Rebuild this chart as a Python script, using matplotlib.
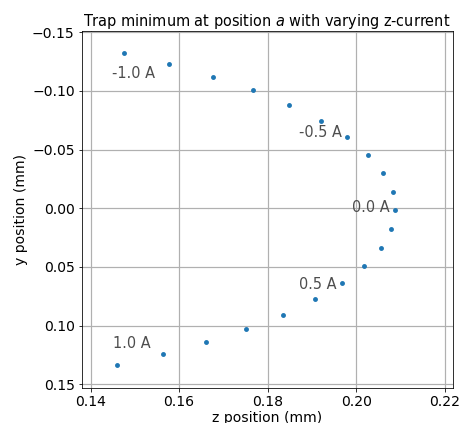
import numpy as np
import matplotlib
matplotlib.use("Agg")
import matplotlib.pyplot as plt

# trap minimum positions (mm) for z-current from -1.0 A to 1.0 A
currents = np.round(np.arange(-1.0, 1.01, 0.1), 1)
z_pos = [0.1475, 0.1578, 0.1676, 0.1767, 0.1849, 0.1920, 0.1980, 0.2027,
         0.2061, 0.2082, 0.2087, 0.2078, 0.2055, 0.2018, 0.1969, 0.1907,
         0.1834, 0.1751, 0.1661, 0.1563, 0.1460]
y_pos = [-0.1321, -0.1228, -0.1122, -0.1009, -0.0881, -0.0744, -0.0604, -0.0453,
         -0.0297, -0.0141, 0.0019, 0.0179, 0.0336, 0.0489, 0.0637, 0.0776,
         0.0910, 0.1032, 0.1142, 0.1242, 0.1333]

# annotation labels and where they sit
label_text = ["-1.0 A", "-0.5 A", "0.0 A", "0.5 A", "1.0 A"]
label_z = [0.1497, 0.1920, 0.2033, 0.1913, 0.1493]
label_y = [-0.1147, -0.0646, -0.0009, 0.0654, 0.1154]


def main():
    dpi = 72
    fig = plt.figure(figsize=(466 / dpi, 423 / dpi), dpi=dpi)
    ax = fig.add_subplot(111)
    fig.subplots_adjust(left=0.1753, right=0.9715, top=0.9267, bottom=0.082)

    ax.scatter(z_pos, y_pos, s=24, color="tab:blue", linewidths=0, zorder=3)
    for t, zx, yy in zip(label_text, label_z, label_y):
        ax.text(zx, yy, t, ha="center", va="center", fontsize=14.5, color="0.3")

    ax.set_xlim(0.138, 0.2218)
    ax.set_ylim(0.1535, -0.1511)
    ax.set_xticks([0.14, 0.16, 0.18, 0.20, 0.22])
    ax.set_yticks([-0.15, -0.10, -0.05, 0.0, 0.05, 0.10, 0.15])
    ax.tick_params(labelsize=14)
    ax.grid(True, linewidth=1.2)
    ax.set_axisbelow(True)

    ax.set_xlabel("z position (mm)", fontsize=14, labelpad=2)
    ax.set_ylabel("y position (mm)", fontsize=14, labelpad=4)
    ax.set_title("Trap minimum at position $a$ with varying z-current", fontsize=14.5, pad=3)

    fig.savefig("out.png", dpi=dpi)


if __name__ == "__main__":
    main()
